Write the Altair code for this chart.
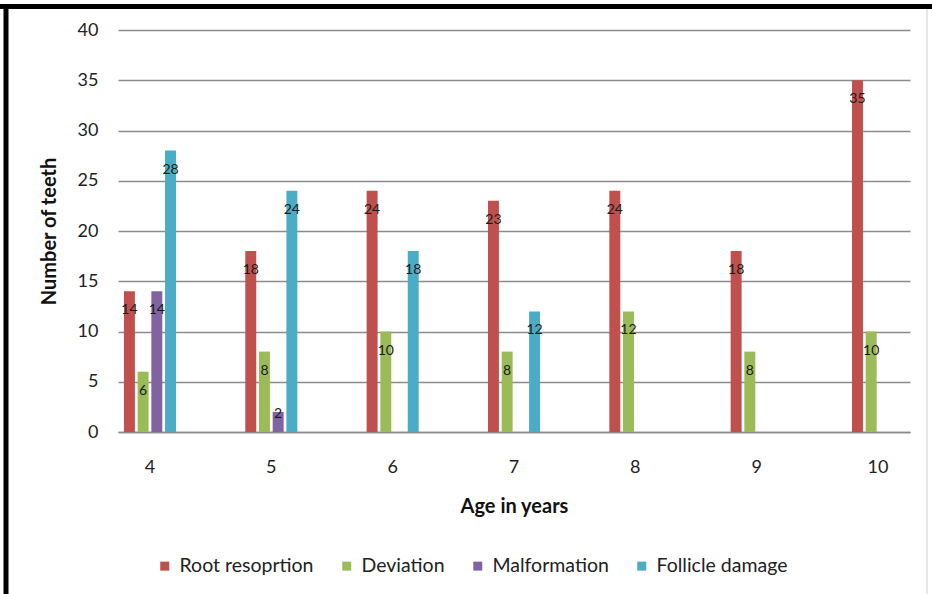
import altair as alt
import pandas as pd

ages = ["4", "5", "6", "7", "8", "9", "10"]
series = ["Root resoprtion", "Deviation", "Malformation", "Follicle damage"]
root = [14, 18, 24, 23, 24, 18, 35]
deviation = [6, 8, 10, 8, 12, 8, 10]
malformation = [14, 2, 0, 0, 0, 0, 0]
follicle = [28, 24, 18, 12, 0, 0, 0]
colors = ["#C0504D", "#9BBB59", "#8064A2", "#4BACC6"]
y_ticks = [0, 5, 10, 15, 20, 25, 30, 35, 40]

rows = []
for name, vals in zip(series, [root, deviation, malformation, follicle]):
    for a, v in zip(ages, vals):
        rows.append({"age": a, "series": name, "value": v})
df = pd.DataFrame(rows)

FONT = "Lato"

x_enc = alt.X(
    "age:N",
    sort=ages,
    scale=alt.Scale(paddingInner=0.571, paddingOuter=0.049),
    axis=alt.Axis(
        title="Age in years",
        labelAngle=0,
        ticks=False,
        domain=True,
        domainColor="#8c8c8c",
        domainWidth=1.5,
        labelPadding=26,
        titlePadding=20,
        grid=False,
    ),
)
xoff_enc = alt.XOffset(
    "series:N",
    sort=series,
    scale=alt.Scale(domain=series, paddingInner=0.2, paddingOuter=0),
)

base = alt.Chart(df).transform_filter("datum.value > 0")

bars = base.mark_bar().encode(
    x=x_enc,
    xOffset=xoff_enc,
    y=alt.Y(
        "value:Q",
        scale=alt.Scale(domain=[0, 40], nice=False),
        axis=alt.Axis(
            title="Number of teeth",
            values=y_ticks,
            domain=False,
            ticks=False,
            grid=True,
            gridColor="#8c8c8c",
            gridWidth=1.5,
            labelPadding=20,
            titlePadding=18,
        ),
    ),
    color=alt.Color(
        "series:N",
        sort=series,
        scale=alt.Scale(domain=series, range=colors),
        legend=alt.Legend(
            title=None,
            orient="none",
            legendX=37,
            legendY=526,
            direction="horizontal",
            columns=4,
            symbolType="square",
            symbolSize=81,
            symbolStrokeWidth=0,
            labelFont=FONT,
            labelFontSize=19.5,
            labelColor="#222222",
            labelOffset=5,
            columnPadding=23,
            padding=0,
        ),
    ),
)

labels = base.transform_calculate(
    labelY="max(datum.value, 3.7)"
).mark_text(dy=19, baseline="middle", fontSize=14, font=FONT, color="#1a1a1a").encode(
    x=alt.X("age:N", sort=ages),
    xOffset=alt.XOffset("series:N", sort=series),
    y=alt.Y("labelY:Q"),
    text=alt.Text("value:Q"),
)

one = pd.DataFrame({"k": [0]})
border_top = alt.Chart(one).mark_rule(color="#000000", strokeWidth=5).encode(
    x=alt.value(-118), x2=alt.value(814), y=alt.value(-23.5)
)
border_left = alt.Chart(one).mark_rule(color="#000000", strokeWidth=5).encode(
    x=alt.value(-112), y=alt.value(-26), y2=alt.value(564)
)
border_right = alt.Chart(one).mark_rule(color="#d0d0d0", strokeWidth=1).encode(
    x=alt.value(809), y=alt.value(-21), y2=alt.value(564)
)

chart = (
    alt.layer(bars, labels, border_top, border_left, border_right)
    .properties(
        width=792,
        height=402,
        padding={"left": 118, "top": 30, "right": 22, "bottom": 162},
        autosize=alt.AutoSizeParams(type="none"),
        background="white",
    )
    .configure_view(stroke=None)
    .configure_axis(
        labelFont=FONT,
        labelFontSize=18,
        labelColor="#222222",
        titleFont=FONT,
        titleFontSize=20,
        titleFontWeight="bold",
        titleColor="#111111",
    )
)

chart.save("out.html", embed_options={"renderer": "svg", "actions": False})
